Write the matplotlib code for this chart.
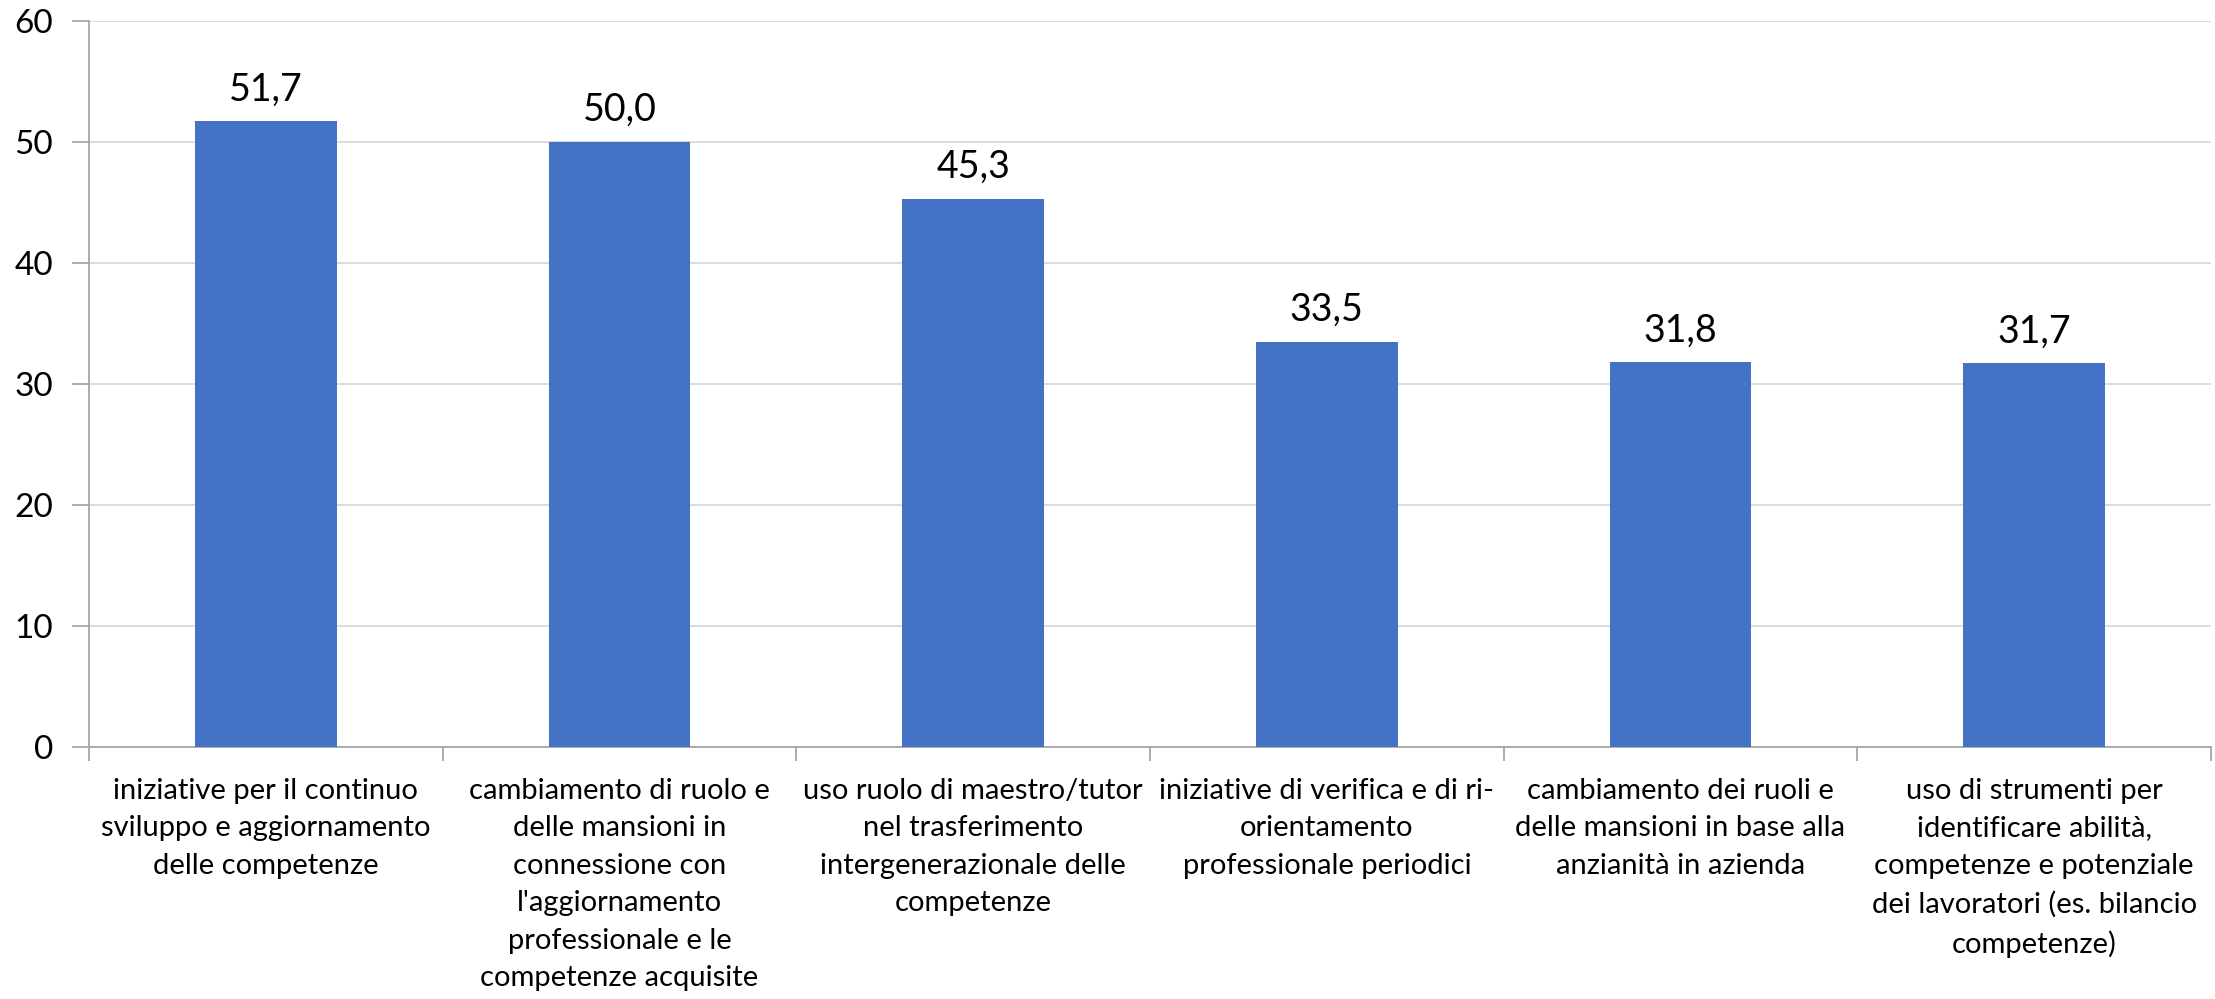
import numpy as np
import matplotlib
matplotlib.use('Agg')
import matplotlib.pyplot as plt

categories = [
    "iniziative per il continuo\nsviluppo e aggiornamento\ndelle competenze",
    "cambiamento di ruolo e\ndelle mansioni in\nconnessione con\nl'aggiornamento\nprofessionale e le\ncompetenze acquisite",
    "uso ruolo di maestro/tutor\nnel trasferimento\nintergenerazionale delle\ncompetenze",
    "iniziative di verifica e di ri-\norientamento\nprofessionale periodici",
    "cambiamento dei ruoli e\ndelle mansioni in base alla\nanzianità in azienda",
    "uso di strumenti per\nidentificare abilità,\ncompetenze e potenziale\ndei lavoratori (es. bilancio\ncompetenze)",
]
values = [51.7, 50.0, 45.3, 33.5, 31.8, 31.7]
y_ticks = [0, 10, 20, 30, 40, 50, 60]

plt.rcParams['font.family'] = ['Lato', 'DejaVu Sans']

fig = plt.figure(figsize=(22.15, 9.99), dpi=100)
ax = fig.add_axes([89/2215, 1 - 747/999, (2211 - 89)/2215, (747 - 21)/999])

x = np.arange(len(values))
bars = ax.bar(x, values, width=0.4, color='#4472C4', zorder=3)

# value labels, comma as decimal separator
for xi, v in zip(x, values):
    ax.annotate(f"{v:.1f}".replace('.', ','), (xi, v), xytext=(0, 15),
                textcoords='offset points', ha='center', va='baseline', fontsize=27)

ax.set_xlim(-0.5, len(values) - 0.5)
ax.set_ylim(0, 60)
ax.set_yticks(y_ticks)
ax.set_yticklabels([str(t) for t in y_ticks], fontsize=24)
ax.grid(axis='y', color='#d9d9d9', linewidth=1.3, zorder=0)

ax.set_xticks(x)
ax.set_xticklabels(categories, fontsize=21)
for lbl in ax.get_xticklabels():
    lbl.set_linespacing(1.55)
ax.set_xticks(np.arange(len(values) + 1) - 0.5, minor=True)
ax.tick_params(axis='x', which='major', length=0, pad=22)
ax.tick_params(axis='x', which='minor', length=10, width=1.3, color='#a6a6a6')
ax.tick_params(axis='y', length=12, width=1.3, color='#a6a6a6', pad=14)

for side in ['top', 'right']:
    ax.spines[side].set_visible(False)
for side in ['left', 'bottom']:
    ax.spines[side].set_color('#a6a6a6')
    ax.spines[side].set_linewidth(1.3)

fig.savefig("out.png", dpi=100)
